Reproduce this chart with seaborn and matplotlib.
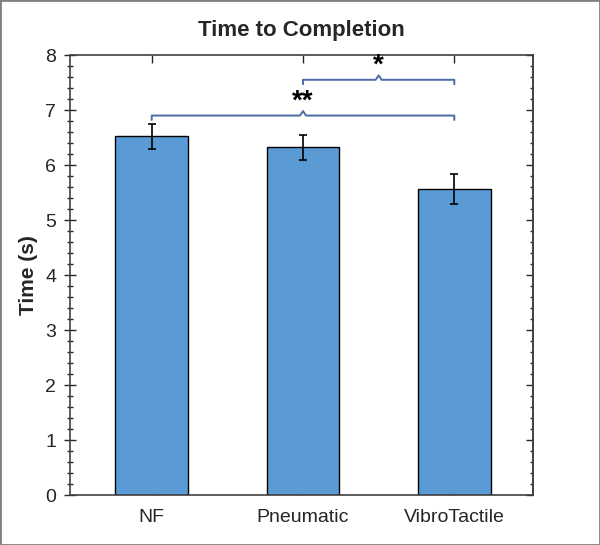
import numpy as np
import pandas as pd
import matplotlib.pyplot as plt
import seaborn as sns
from matplotlib.ticker import MultipleLocator

conditions = ["NF", "Pneumatic", "VibroTactile"]
mean_time = [6.52, 6.32, 5.57]
sem_time = [0.22, 0.22, 0.27]
# significance brackets: (from, to, level, label)
brackets = [("NF", "VibroTactile", 6.9, "**"), ("Pneumatic", "VibroTactile", 7.55, "*")]

df = pd.DataFrame({"Condition": conditions, "Time": mean_time})

sns.set_theme(style="ticks")
plt.rcParams["font.family"] = ["Liberation Sans", "DejaVu Sans"]

fig = plt.figure(figsize=(6, 5.45), dpi=100)
ax = fig.add_axes([0.1167, 0.0917, 0.7716, 0.8073])

sns.barplot(data=df, x="Condition", y="Time", color="#5B9BD5", width=0.48,
            edgecolor="black", linewidth=1.0, saturation=1, ax=ax)
ax.errorbar(range(len(conditions)), mean_time, yerr=sem_time, fmt="none",
            ecolor="black", elinewidth=1.2, capsize=3, capthick=1.2)

pos = {c: i for i, c in enumerate(conditions)}
bc = "#4A6BA8"
for a, b, lvl, lab in brackets:
    x1, x2 = pos[a], pos[b]
    xm = (x1 + x2) / 2
    ax.plot([x1, x1, xm - 0.02, xm, xm + 0.02, x2, x2],
            [lvl - 0.08, lvl, lvl, lvl + 0.08, lvl, lvl, lvl - 0.08],
            color=bc, lw=1.4, solid_joinstyle="round")
    ax.text(xm, lvl + 0.02, lab, ha="center", va="bottom", fontsize=20,
            fontweight="bold", color="black")

ax.set_xlim(-0.54, 2.52)
ax.set_ylim(0, 8)
ax.yaxis.set_major_locator(MultipleLocator(1))
ax.yaxis.set_minor_locator(MultipleLocator(0.2))
ax.tick_params(axis="y", which="major", direction="inout", length=8, width=1,
               labelsize=14, pad=6)
ax.tick_params(axis="y", which="minor", direction="inout", length=4, width=1)
ax.tick_params(axis="x", direction="in", length=6, width=1, labelsize=14,
               top=True, pad=10)

# right side: inward ticks only
ax_r = ax.secondary_yaxis("right")
ax_r.yaxis.set_major_locator(MultipleLocator(1))
ax_r.yaxis.set_minor_locator(MultipleLocator(0.2))
ax_r.tick_params(which="major", direction="in", length=5, width=1, labelright=False)
ax_r.tick_params(which="minor", direction="in", length=2.5, width=1)

for s in list(ax.spines.values()) + [ax_r.spines["right"]]:
    s.set_color("#404040")
    s.set_linewidth(1.2)

ax.set_xlabel("")
ax.set_ylabel("Time (s)", fontsize=15, fontweight="bold", labelpad=5)
ax.set_title("Time to Completion", fontsize=16, fontweight="bold", pad=14)

fig.patches.append(plt.Rectangle((0, 0), 1, 1, transform=fig.transFigure,
                                 fill=False, edgecolor="#808080", lw=2))
fig.savefig("out.png", dpi=100)
